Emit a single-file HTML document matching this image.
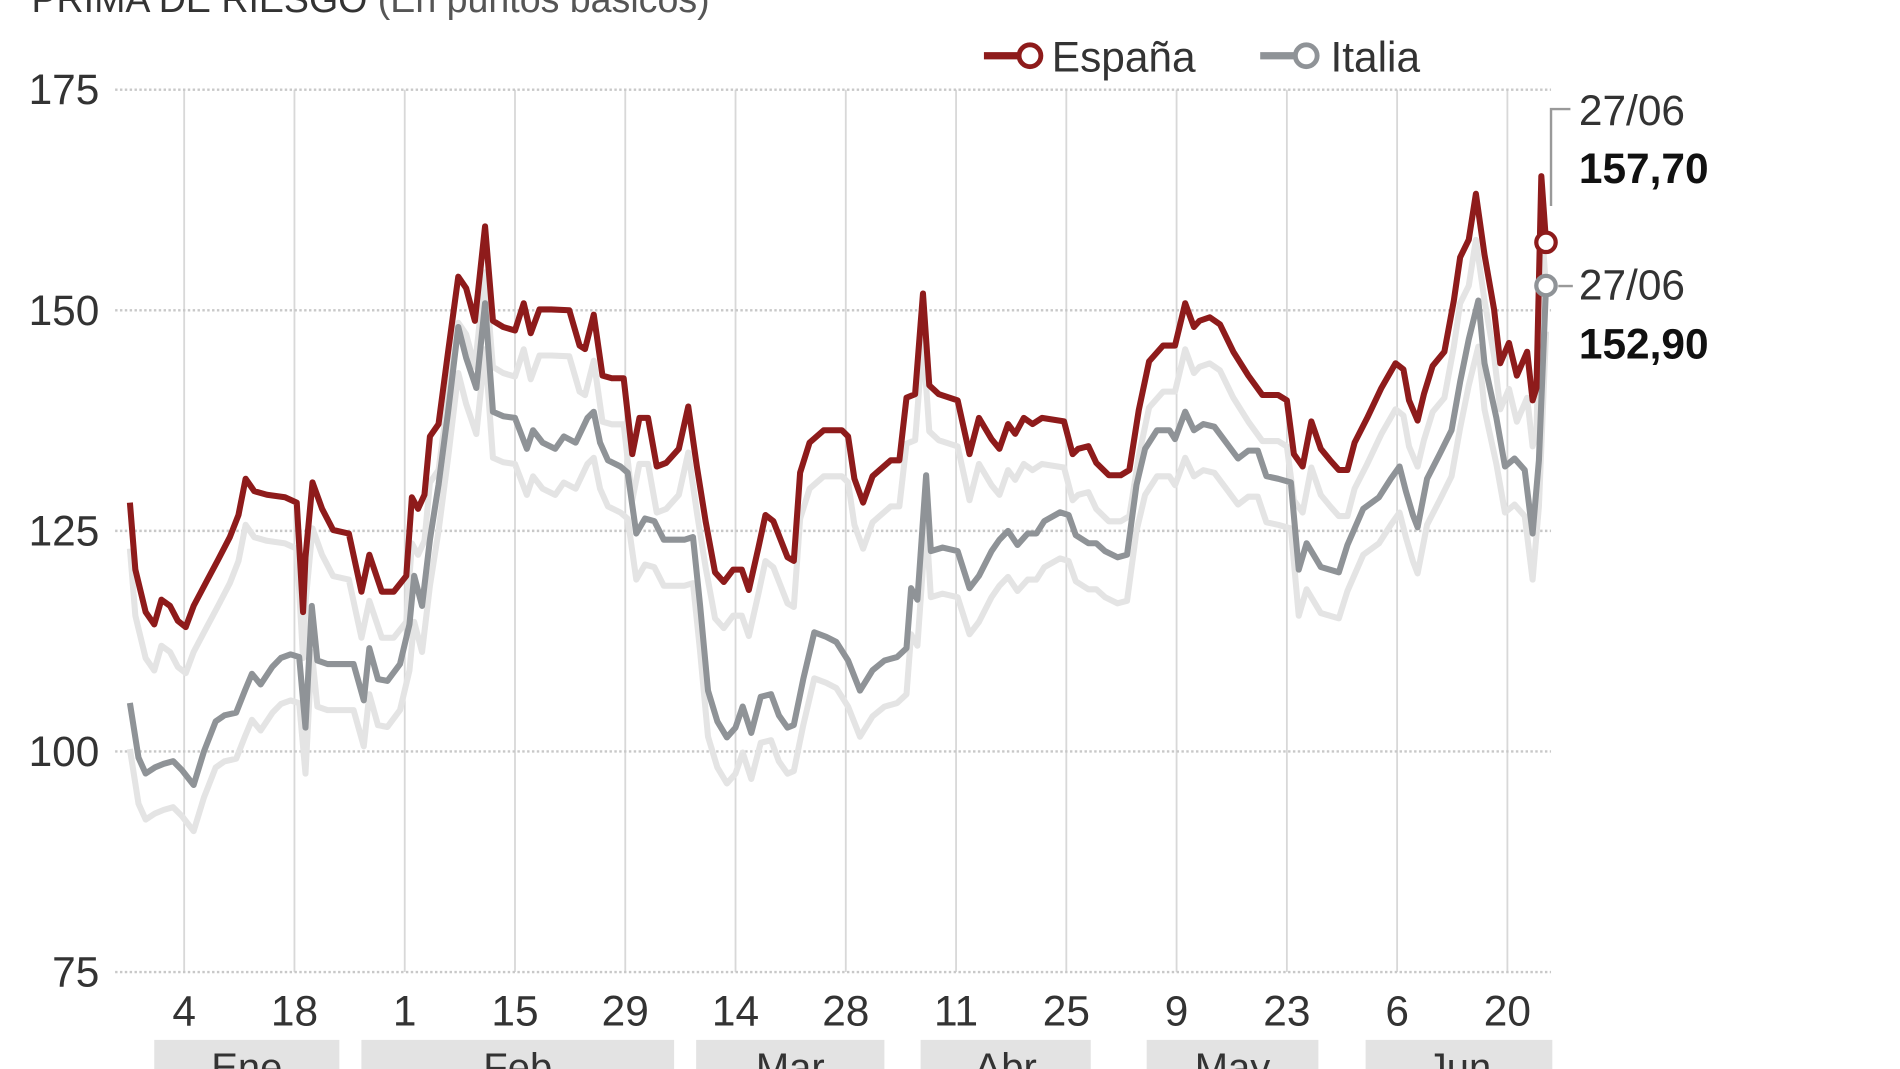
<!DOCTYPE html>
<html><head><meta charset="utf-8"><style>
html,body{margin:0;padding:0;background:#fff;}
svg{display:block;font-family:"Liberation Sans",sans-serif;}
</style></head><body>
<svg id="chart" width="1900" height="1069" viewBox="0 0 1568 882" preserveAspectRatio="none">
<text x="26" y="10" font-size="31" fill="#333">PRIMA DE RIESGO <tspan fill="#555">(En puntos básicos)</tspan></text>
<g>
 <g>
  <line x1="812" y1="46" x2="840" y2="46" stroke="#8e1b1b" stroke-width="6"/>
  <circle cx="850" cy="46" r="9" fill="#fff" stroke="#8e1b1b" stroke-width="4"/>
  <text x="868" y="59" font-size="35" fill="#333">España</text>
 </g>
 <g>
  <line x1="1040" y1="46" x2="1068" y2="46" stroke="#8f9397" stroke-width="6"/>
  <circle cx="1078" cy="46" r="9" fill="#fff" stroke="#8f9397" stroke-width="4"/>
  <text x="1098" y="59" font-size="35" fill="#333">Italia</text>
 </g>
</g>
<g id="grid"></g>
<g id="series"></g>
<g id="xaxis"></g>
<g>
 <polyline points="1296,90 1280,90 1280,170" fill="none" stroke="#999" stroke-width="2"/>
 <text x="1303" y="103" font-size="35" fill="#333">27/06</text>
 <text x="1303" y="151" font-size="35" font-weight="bold" fill="#111">157,70</text>
 <line x1="1286" y1="236" x2="1298" y2="236" stroke="#999" stroke-width="2"/>
 <text x="1303" y="247" font-size="35" fill="#333">27/06</text>
 <text x="1303" y="296" font-size="35" font-weight="bold" fill="#111">152,90</text>
</g>
</svg>
<script>
const yTicks=[175,150,125,100,75];
const xTickDays=[0,14,28,42,56,70,84,98,112,126,140,154,168];
const xTickLabels=["4","18","1","15","29","14","28","11","25","9","23","6","20"];
const months=["Ene","Feb","Mar","Abr","May","Jun"];
const monthStartDays=[-3.8,22.5,65,93.5,122.2,150];
const monthEndDays=[19.7,62.2,88.9,115.1,144,173.7];
const espDays=[-6.9,-6.2,-4.9,-3.8,-2.9,-1.8,-0.8,0.2,1.2,2.8,4.3,5.8,6.9,7.8,8.9,10.5,12.8,14.3,15.1,15.4,16.3,17.5,18.9,20.9,22.5,23.5,25.1,26.6,28.2,28.9,29.7,30.5,31.2,32.3,33.5,34.8,35.8,36.9,38.2,39.2,40.5,42,43.1,44,45.1,46.6,48.9,50.2,50.9,52,53.1,54.3,55.8,56.9,57.8,58.9,60,61.2,62.8,64,65.1,66.2,67.4,68.5,69.7,70.8,71.7,72.9,73.8,74.8,76.6,77.4,78.2,79.4,81.2,83.5,84.3,85.1,86.2,87.4,89.7,90.8,91.7,92.8,93.8,94.6,95.8,98.2,99.7,100.9,102.5,103.5,104.6,105.5,106.6,107.7,108.9,111.7,112.8,113.5,114.8,115.8,117.4,118.9,120,121.2,122.5,124.3,125.8,127.1,128.2,128.9,130.2,131.5,133.2,135.1,136.9,138.9,140,140.9,142,143.1,144.3,145.5,146.6,147.7,148.6,150.2,152,153.8,154.8,155.5,156.6,157.4,158.5,160,161.2,162,163.1,164,165.1,166.3,167.1,168.2,169.2,170.5,171.2,171.7,172.3,172.9];
const espValues=[128.2,120.6,115.8,114.4,117.2,116.5,114.8,114.1,116.5,119.2,121.7,124.3,126.8,130.9,129.5,129.1,128.8,128.2,115.8,122.0,130.5,127.5,125.1,124.7,118.1,122.3,118.1,118.1,119.9,128.8,127.5,129.1,135.7,137.1,145.3,153.8,152.5,148.8,159.5,148.8,148.1,147.7,150.8,147.4,150.1,150.1,150.0,146.0,145.6,149.5,142.6,142.3,142.3,133.7,137.8,137.8,132.3,132.7,134.3,139.1,132.3,126.1,120.3,119.2,120.6,120.6,118.3,123.1,126.8,126.1,122.0,121.6,131.6,135.0,136.4,136.4,135.7,130.9,128.2,131.2,133.0,133.0,140.1,140.5,151.9,141.5,140.5,139.8,133.7,137.8,135.4,134.3,137.1,136.0,137.8,137.1,137.8,137.4,133.7,134.3,134.6,132.7,131.3,131.3,131.9,138.7,144.2,146.0,146.0,150.8,148.1,148.8,149.2,148.4,145.3,142.6,140.4,140.4,139.8,133.7,132.3,137.4,134.3,133.0,131.9,131.9,135.0,137.8,141.2,144.0,143.3,139.8,137.5,140.5,143.7,145.3,151.1,156.0,158.0,163.2,156.3,150.1,144.0,146.3,142.6,145.3,139.8,141.2,165.2,157.7];
const itaDays=[-6.9,-5.8,-4.9,-3.7,-2.6,-1.4,-0.3,1.2,2.5,4,5.1,6.6,7.7,8.6,9.7,11.2,12.3,13.5,14.6,15.4,16.2,16.9,18.2,19.7,21.5,22.8,23.5,24.6,25.8,27.4,28.6,29.2,30.2,31.2,32.3,33.5,34.8,35.8,37.1,38.2,39.2,40.5,42,43.5,44.3,45.5,47.1,48.2,49.7,51.2,52,52.8,53.8,55.4,56.3,57.4,58.5,59.7,60.9,62.5,63.5,64.6,65.5,66.5,67.7,68.9,70,70.9,72,73.2,74.5,75.5,76.6,77.4,78.6,80,81.5,82.8,84.3,85.8,87.4,88.9,90.5,91.7,92.3,93.1,94.2,94.8,96.3,98.2,99.7,100.9,102.5,103.5,104.6,105.8,107.1,108.2,109.2,111.2,112.3,113.2,114.8,115.8,116.9,118.5,119.7,120.9,122,123.5,125.1,125.8,127.1,128.2,129.4,130.8,132.3,133.8,135.1,136.3,137.4,138.9,140.5,141.5,142.5,144.3,146.6,147.7,149.7,151.7,153.2,154.3,155.1,156,156.6,157.8,159.4,160.9,162,163.1,164.3,165.1,166.6,167.7,168.9,170.2,171.2,172,172.9];
const itaValues=[105.5,99.3,97.5,98.2,98.6,98.9,97.9,96.2,100.0,103.4,104.1,104.4,106.9,108.8,107.6,109.6,110.6,111.0,110.7,102.7,116.5,110.3,109.9,109.9,109.9,105.8,111.7,108.2,108.0,109.9,114.4,119.9,116.5,124.0,130.2,138.5,148.1,144.6,141.2,150.8,138.5,138.0,137.8,134.3,136.4,135.0,134.3,135.7,135.0,137.8,138.5,135.0,133.0,132.3,131.6,124.7,126.4,126.1,124.0,124.0,124.0,124.3,116.5,106.9,103.4,101.6,102.7,105.1,102.1,106.2,106.5,104.1,102.7,103.0,108.2,113.5,113.0,112.4,110.3,106.9,109.2,110.3,110.7,111.7,118.5,117.2,131.3,122.7,123.1,122.7,118.5,119.9,122.7,124.0,125.0,123.4,124.7,124.7,126.1,127.1,126.8,124.5,123.6,123.6,122.7,122.0,122.3,130.2,134.3,136.4,136.4,135.4,138.5,136.4,137.1,136.8,135.0,133.2,134.1,134.1,131.2,130.9,130.5,120.6,123.6,120.9,120.3,123.4,127.5,128.8,130.9,132.3,129.5,126.8,125.4,130.9,133.7,136.4,141.9,146.7,151.1,144.0,137.8,132.3,133.2,131.9,124.7,133.0,152.8];

const NS="http://www.w3.org/2000/svg";
function xs(d){return 152+d*6.5;}
function ys(v){return 74+(175-v)*7.28;}
function mk(tag,attrs,parent){const e=document.createElementNS(NS,tag);for(const k in attrs)e.setAttribute(k,attrs[k]);parent.appendChild(e);return e;}
const grid=document.getElementById('grid'),series=document.getElementById('series'),xaxis=document.getElementById('xaxis');
xTickDays.forEach((d,i)=>{
 const l=mk('line',{x1:xs(d),x2:xs(d),y1:ys(175),y2:ys(75),stroke:'#d8d8d8','stroke-width':1.5},grid);
 
 
 const t=mk('text',{x:xs(d),y:846,'font-size':35,'text-anchor':'middle',fill:'#333'},xaxis);
 t.textContent=xTickLabels[i];
 
 
});
yTicks.forEach(v=>{
 const l=mk('line',{x1:95,x2:1280,y1:ys(v),y2:ys(v),stroke:'#c8c8c8','stroke-width':2,'stroke-dasharray':'2,2'},grid);
 
 
 const t=mk('text',{x:82,y:ys(v)+12,'font-size':35,'text-anchor':'end',fill:'#333'},grid);
 t.textContent=String(v);
 
 
});
months.forEach((m,i)=>{
 const r=mk('rect',{x:xs(monthStartDays[i]),y:858,width:xs(monthEndDays[i])-xs(monthStartDays[i]),height:30,fill:'#e3e3e3'},xaxis);
 
 
 const t=mk('text',{x:(xs(monthStartDays[i])+xs(monthEndDays[i]))/2,y:892,'font-size':33,'text-anchor':'middle',fill:'#333'},xaxis);
 t.textContent=m;
 
 
});
function pts(days,vals){return days.map((d,i)=>xs(d).toFixed(1)+','+ys(vals[i]).toFixed(1)).join(' ');}
const sh1=mk('polyline',{points:pts(espDays,espValues),fill:'none',stroke:'#e4e4e4','stroke-width':5,'stroke-linejoin':'round',transform:'translate(0,38)'},series);


const sh2=mk('polyline',{points:pts(itaDays,itaValues),fill:'none',stroke:'#e4e4e4','stroke-width':5,'stroke-linejoin':'round',transform:'translate(0,38)'},series);


const li=mk('polyline',{points:pts(itaDays,itaValues),fill:'none',stroke:'#8f9397','stroke-width':5,'stroke-linejoin':'round'},series);


const le=mk('polyline',{points:pts(espDays,espValues),fill:'none',stroke:'#8e1b1b','stroke-width':5,'stroke-linejoin':'round'},series);


const ci=mk('circle',{cx:xs(itaDays[itaDays.length-1]),cy:ys(itaValues[itaValues.length-1]),r:8,fill:'#fff',stroke:'#8f9397','stroke-width':3.5},series);


const ce=mk('circle',{cx:xs(espDays[espDays.length-1]),cy:ys(espValues[espValues.length-1]),r:8,fill:'#fff',stroke:'#8e1b1b','stroke-width':3.5},series);


</script>
</body></html>
